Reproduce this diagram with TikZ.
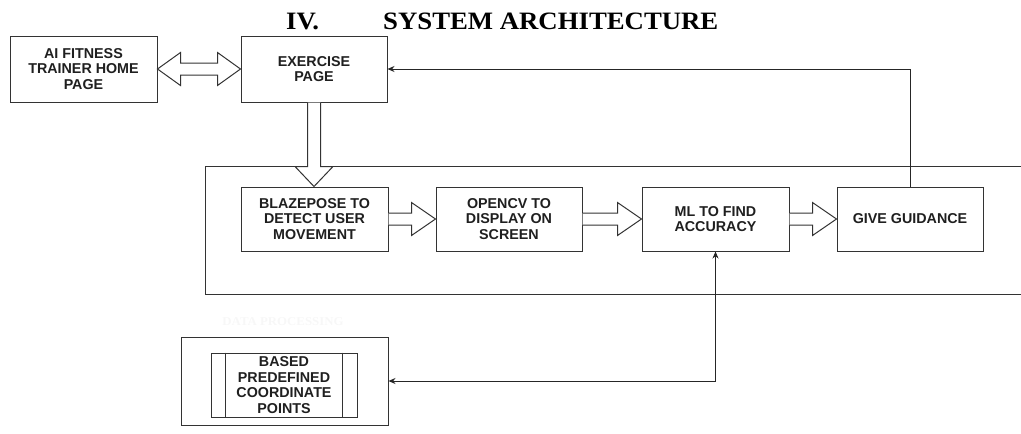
\documentclass[tikz,border=0pt]{standalone}
\usepackage{fontspec}
\setmainfont{Liberation Sans}
\newfontfamily\titlefont[FakeStretch=1.07]{Liberation Serif}
\newfontfamily\labelfont{Liberation Sans}
\usetikzlibrary{arrows.meta,calc}

% hollow block arrows between node anchors
\newcommand\blockright[2]{%
  \draw[barrow] let \p1=(#1.east), \p2=(#2.west) in
    (\x1,\y1+6pt) -- (\x2-24pt,\y1+6pt) -- (\x2-24pt,\y1+16.5pt) -- (\x2,\y1)
    -- (\x2-24pt,\y1-16.5pt) -- (\x2-24pt,\y1-6pt) -- (\x1,\y1-6pt);}
\newcommand\blockdown[2]{%
  \draw[barrow] let \p1=(#1.south), \p2=(#2.north) in
    (\x1-6.5pt,\y1) -- (\x1-6.5pt,\y2+20pt) -- (\x1-19pt,\y2+20pt) -- (\x1,\y2)
    -- (\x1+19pt,\y2+20pt) -- (\x1+6.5pt,\y2+20pt) -- (\x1+6.5pt,\y1);}
\newcommand\blockboth[2]{%
  \draw[barrow] let \p1=(#1.east), \p2=(#2.west) in
    (\x1,\y1) -- (\x1+23pt,\y1+16.5pt) -- (\x1+23pt,\y1+6pt) -- (\x2-23pt,\y1+6pt)
    -- (\x2-23pt,\y1+16.5pt) -- (\x2,\y1) -- (\x2-23pt,\y1-16.5pt) -- (\x2-23pt,\y1-6pt)
    -- (\x1+23pt,\y1-6pt) -- (\x1+23pt,\y1-16.5pt) -- cycle;}

\begin{document}
\begin{tikzpicture}[x=1pt,y=-1pt,
  box/.style={draw=black!80, line width=1pt, rectangle, inner sep=0pt,
    minimum width=146pt, minimum height=64pt, align=center, text=black!88,
    font=\labelfont\bfseries\fontsize{14.3}{15.6}\selectfont},
  barrow/.style={draw=black!80, line width=1pt, fill=white, line join=miter},
  frame/.style={draw=black!80, line width=1pt},
  link/.style={draw=black!85, line width=1pt, -{Stealth[length=7pt,width=6pt]}},
  title/.style={anchor=base west, inner sep=0pt, text=black,
    font=\titlefont\bfseries\fontsize{25}{28}\selectfont}]
\useasboundingbox (0,0) rectangle (1021,434);

% heading
\node[title] (num) at (286,29) {IV.};
\node[title] (head) at (383,29) {SYSTEM ARCHITECTURE};

% processing frame, open on the right
\draw[frame] (1030,166) -- (205,166) -- (205,294) -- (1030,294);

% top row
\node[box, minimum width=147pt, minimum height=66pt] (home) at (83.5,69)
  {AI FITNESS\\TRAINER HOME\\PAGE};
\node[box, minimum height=66pt] (ex) at (314,69) {EXERCISE\\PAGE};

% processing row
\node[box, minimum width=147pt] (blaze) at (314.5,219)
  {BLAZEPOSE TO\\DETECT USER\\MOVEMENT};
\node[box] (cv) at (509,219) {OPENCV TO\\DISPLAY ON\\SCREEN};
\node[box, minimum width=147pt] (ml) at (715.5,219) {ML TO FIND\\ACCURACY};
\node[box] (guide) at (910,219) {GIVE GUIDANCE};

% data store
\node[text=black!3, font=\titlefont\bfseries\fontsize{12}{14}\selectfont]
  (dlabel) at (283,322) {DATA PROCESSING};
\node[box, minimum width=207pt, minimum height=88pt] (store) at (284.5,381) {};
\node[box] (points) at (284,385) {BASED\\PREDEFINED\\COORDINATE\\POINTS};
\draw[frame] ($(points.north west)+(15,0)$) -- ($(points.south west)+(15,0)$);
\draw[frame] ($(points.north east)+(-15,0)$) -- ($(points.south east)+(-15,0)$);

% block arrows
\blockboth{home}{ex}
\blockdown{ex}{blaze}
\blockright{blaze}{cv}
\blockright{cv}{ml}
\blockright{ml}{guide}

% line connectors
\draw[link] (guide.north) |- (ex.east);
\draw[link, {Stealth[length=7pt,width=6pt]}-{Stealth[length=7pt,width=6pt]}]
  (ml.south) |- (store.east);
\end{tikzpicture}
\end{document}
